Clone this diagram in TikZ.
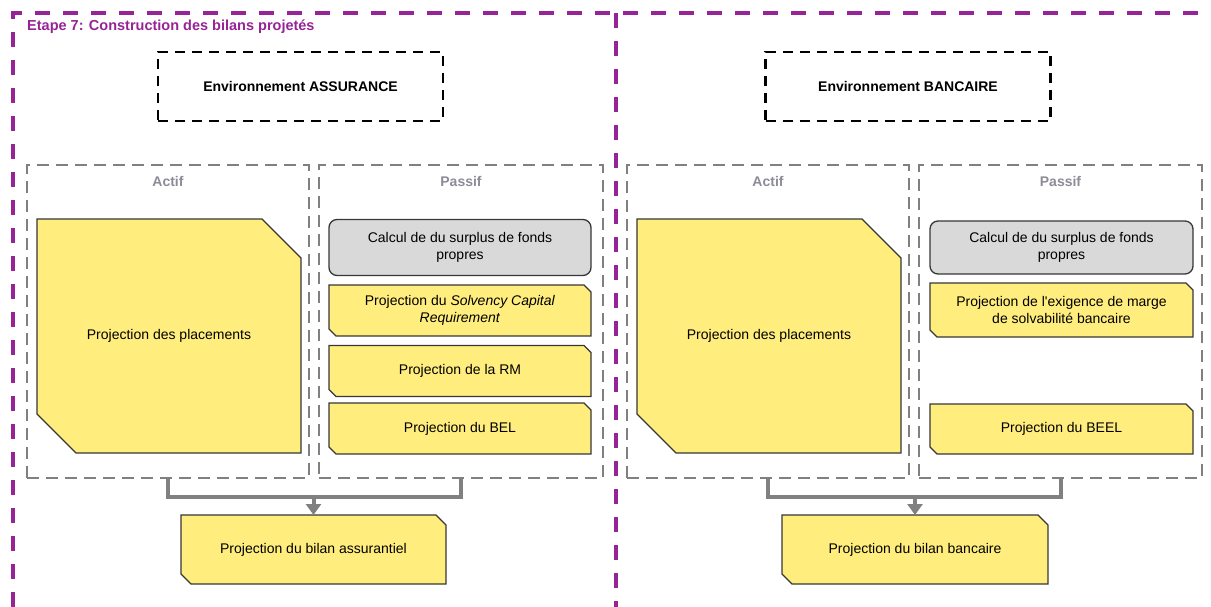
\documentclass[tikz,border=0pt]{standalone}
\usepackage{fontspec}
\setmainfont{Liberation Sans}
\usetikzlibrary{backgrounds,arrows.meta,calc}

\definecolor{purpleline}{RGB}{150,36,150}
\definecolor{boxyellow}{RGB}{255,238,125}
\definecolor{boxgray}{RGB}{217,217,217}
\definecolor{dashgray}{RGB}{128,128,128}
\definecolor{labelgray}{RGB}{140,140,152}
\definecolor{edgedark}{RGB}{55,55,55}

\tikzset{
  frame/.style={draw=purpleline, line width=3.5pt, dash pattern=on 15pt off 13pt},
  envbox/.style={draw=black, line width=2.3pt, dash pattern=on 10pt off 7pt,
    minimum width=285pt, minimum height=69pt, inner sep=0pt,
    font=\bfseries\fontsize{14}{17}\selectfont},
  sidebox/.style={draw=dashgray, line width=2.3pt, dash pattern=on 12pt off 7pt,
    minimum height=313pt, inner sep=0pt, outer sep=0pt},
  sidelabel/.style={text=labelgray, inner sep=0pt, font=\bfseries\fontsize{14}{17}\selectfont},
  boxtext/.style={inner sep=0pt, outer sep=0pt, align=center, font=\fontsize{14}{17}\selectfont},
  calcbox/.style={boxtext, draw=edgedark, fill=boxgray, line width=1.3pt, rounded corners=8pt},
  chamfill/.style={draw=edgedark, fill=boxyellow, line width=1.3pt, line join=miter},
  bracket/.style={draw=dashgray, line width=4pt},
  feed/.style={draw=dashgray, line width=4pt, -{Triangle[length=11pt,width=15pt]}},
  steptitle/.style={text=purpleline, anchor=west, inner sep=0pt,
    font=\bfseries\fontsize{14.5}{17}\selectfont}
}

% yellow box with the north-east and south-west corners cut off
\newcommand\chamferoutline[2]{%
  \draw[chamfill] (#1.north west) -- ([xshift=-#2]#1.north east)
    -- ([yshift=-#2]#1.north east) -- (#1.south east)
    -- ([xshift=#2]#1.south west) -- ([yshift=#2]#1.south west) -- cycle;}

\begin{document}
\begin{tikzpicture}[x=1pt,y=-1pt]
\useasboundingbox (0,0) rectangle (1211,607);

% purple step frame
\draw[frame] (13,607) -- (13,13) -- (1211,13);
\draw[frame] (616,13) -- (616,607);

\node[steptitle] (title) at (27,27) {Etape 7: Construction des bilans projetés};

% environments
\node[envbox] (envA) at (300.5,86.5) {Environnement ASSURANCE};
\node[envbox] (envB) at (908,86.5) {Environnement BANCAIRE};

% asset / liability containers
\node[sidebox, minimum width=282pt] (actifA) at (168,321.5) {};
\node[sidebox, minimum width=284pt] (passifA) at (461,321.5) {};
\node[sidebox, minimum width=282pt] (actifB) at (768,321.5) {};
\node[sidebox, minimum width=283pt] (passifB) at (1060.5,321.5) {};

\node[sidelabel] (actifAlab) at (168,181) {Actif};
\node[sidelabel] (passifAlab) at (461,181) {Passif};
\node[sidelabel] (actifBlab) at (768,181) {Actif};
\node[sidelabel] (passifBlab) at (1060.5,181) {Passif};

% insurance side
\node[boxtext, minimum width=264pt, minimum height=234pt] (placA) at (169,336) {Projection des placements};
\node[calcbox, minimum width=262pt, minimum height=56pt] (calcA) at (460,247.5) {Calcul de du surplus de fonds\\propres};
\node[boxtext, minimum width=262pt, minimum height=51pt] (scrA) at (460,310.5) {Projection du \textit{Solvency Capital}\\\textit{Requirement}};
\node[boxtext, minimum width=262pt, minimum height=51pt] (rmA) at (460,371) {Projection de la RM};
\node[boxtext, minimum width=262pt, minimum height=51pt] (belA) at (460,428.5) {Projection du BEL};
\node[boxtext, minimum width=265pt, minimum height=69pt] (bilanA) at (313.5,549.5) {Projection du bilan assurantiel};

% banking side
\node[boxtext, minimum width=264pt, minimum height=234pt] (placB) at (769,336) {Projection des placements};
\node[calcbox, minimum width=263pt, minimum height=53pt] (calcB) at (1061.5,247.5) {Calcul de du surplus de fonds\\propres};
\node[boxtext, minimum width=263pt, minimum height=54pt] (exiB) at (1061.5,310) {Projection de l\textquotesingle exigence de marge\\de solvabilité bancaire};
\node[boxtext, minimum width=263pt, minimum height=50pt] (beelB) at (1061.5,429) {Projection du BEEL};
\node[boxtext, minimum width=266pt, minimum height=69pt] (bilanB) at (915,549.5) {Projection du bilan bancaire};

% box outlines behind the texts
\begin{scope}[on background layer]
  \chamferoutline{placA}{39pt}
  \chamferoutline{scrA}{7pt}
  \chamferoutline{rmA}{7pt}
  \chamferoutline{belA}{7pt}
  \chamferoutline{bilanA}{10pt}
  \chamferoutline{placB}{39pt}
  \chamferoutline{exiB}{7pt}
  \chamferoutline{beelB}{7pt}
  \chamferoutline{bilanB}{10pt}
\end{scope}

% merging brackets
\coordinate (jA) at (bilanA.north |- 0,497);
\coordinate (jB) at (bilanB.north |- 0,497);
\draw[bracket] (actifA.south) |- (jA) -| (passifA.south);
\draw[feed] (jA) -- (bilanA.north);
\draw[bracket] (actifB.south) |- (jB) -| (passifB.south);
\draw[feed] (jB) -- (bilanB.north);
\end{tikzpicture}
\end{document}
